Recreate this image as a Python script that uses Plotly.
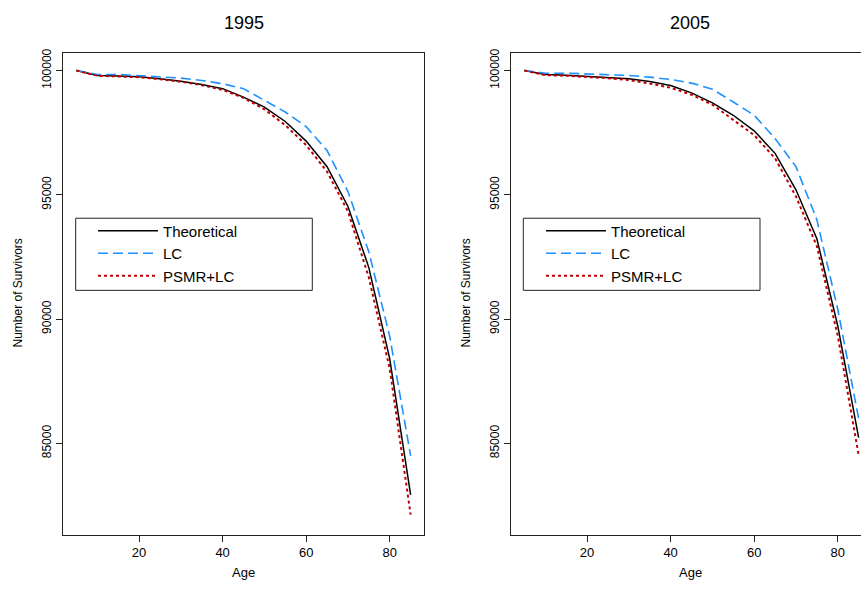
import plotly.graph_objects as go

# ---------------- data ----------------
ages = [5, 10, 15, 20, 25, 30, 35, 40, 45, 50, 55, 60, 65, 70, 75, 80, 85]

theo_1995 = [100000, 99800, 99775, 99745, 99665, 99570, 99440, 99270, 98930,
             98530, 97950, 97160, 96130, 94530, 92070, 88400, 82930]
lc_1995 = [100000, 99840, 99840, 99800, 99760, 99695, 99600, 99470, 99270,
           98800, 98330, 97740, 96780, 95130, 92700, 89300, 84500]
psmr_1995 = [100000, 99790, 99760, 99730, 99650, 99550, 99410, 99220, 98900,
             98440, 97800, 97000, 95930, 94330, 91670, 88000, 82130]

theo_2005 = [100000, 99840, 99813, 99773, 99733, 99667, 99560, 99400, 99100,
             98700, 98200, 97573, 96667, 95200, 93233, 89733, 85227]
lc_2005 = [100000, 99893, 99893, 99867, 99830, 99800, 99733, 99640, 99493,
           99250, 98733, 98200, 97267, 96133, 94000, 90400, 86000]
psmr_2005 = [100000, 99813, 99787, 99747, 99693, 99613, 99480, 99307, 99027,
             98627, 98027, 97400, 96467, 94933, 92933, 89333, 84533]

x_ticks = [20, 40, 60, 80]
y_ticks = [85000, 90000, 95000, 100000]
y_tick_labels = ["85000", "90000", "95000", "100000"]
series_names = ["Theoretical", "LC", "PSMR+LC"]
panel_titles = ["1995", "2005"]

# ---------------- layout helpers ----------------
W, H = 861, 589
def fx(px):
    return px / W
def fy(py):
    return 1 - py / H

FONT = "Liberation Sans, Arial, Helvetica, sans-serif"
styles = [
    dict(color="black", width=1.5, dash="solid"),
    dict(color="#1E90FF", width=1.6, dash="10px,5px"),
    dict(color="#C00000", width=2, dash="3px,3px"),
]

fig = go.Figure()
panels = [
    (theo_1995, lc_1995, psmr_1995, "x", "y", "legend"),
    (theo_2005, lc_2005, psmr_2005, "x2", "y2", "legend2"),
]
for theo, lc, psmr, xa, ya, lg in panels:
    for name, vals, st in zip(series_names, [theo, lc, psmr], styles):
        fig.add_trace(go.Scatter(
            x=ages, y=vals, mode="lines", name=name,
            line=st, xaxis=xa, yaxis=ya, legend=lg, showlegend=True,
        ))

xr = [1.8, 88.2]
px_per_unit = (424 - 63) / (xr[1] - xr[0])
xr2 = [1.8, 1.8 + (W - 511) / px_per_unit]
yr = [81318, 100718]

axis_common = dict(
    showgrid=False, zeroline=False, showline=True, linecolor="#222",
    linewidth=1, ticks="outside", ticklen=6, tickcolor="#222",
)
xtickfont = dict(family=FONT, size=13, color="black")
ytickfont = dict(family=FONT, size=12, color="black")

legend_common = dict(
    font=dict(family=FONT, size=15, color="black"),
    bgcolor="rgba(0,0,0,0)", borderwidth=0,
    xanchor="left", yanchor="top", tracegroupgap=0, itemwidth=60,
)

fig.update_layout(
    width=W, height=H,
    margin=dict(l=0, r=0, t=0, b=0),
    paper_bgcolor="white", plot_bgcolor="white",
    xaxis=dict(domain=[fx(63), fx(424)], range=xr, tickvals=x_ticks,
               tickfont=xtickfont, mirror=True, anchor="y", **axis_common),
    yaxis=dict(domain=[fy(534.5), fy(49)], range=yr, tickvals=y_ticks,
               ticktext=y_tick_labels, tickangle=-90, tickfont=ytickfont,
               mirror=True, anchor="x", **axis_common),
    xaxis2=dict(domain=[fx(511), 1.0], range=xr2, tickvals=x_ticks,
                tickfont=xtickfont, mirror=True, anchor="y2", **axis_common),
    yaxis2=dict(domain=[fy(534.5), fy(49)], range=yr, tickvals=y_ticks,
                ticktext=y_tick_labels, tickangle=-90, tickfont=ytickfont,
                mirror=False, anchor="x2", **axis_common),
    legend=dict(x=fx(93), y=fy(212), **legend_common),
    legend2=dict(x=fx(541), y=fy(212), **legend_common),
    showlegend=True,
)

# legend boxes
for x0, x1 in [(75.7, 312.3), (523.3, 760)]:
    fig.add_shape(type="rect", xref="paper", yref="paper",
                  x0=fx(x0), x1=fx(x1), y0=fy(288.3), y1=fy(215.7),
                  line=dict(color="#222", width=1), fillcolor="rgba(0,0,0,0)")

# titles and axis labels
for cx, title in zip([243.5, 690], panel_titles):
    fig.add_annotation(text=title, x=fx(cx), y=fy(19), xref="paper", yref="paper",
                       showarrow=False, xanchor="center", yanchor="middle",
                       font=dict(family=FONT, size=18, color="black"))
    fig.add_annotation(text="Age", x=fx(cx), y=fy(572), xref="paper", yref="paper",
                       showarrow=False, xanchor="center", yanchor="middle",
                       font=dict(family=FONT, size=13, color="black"))
for lx in [18, 466]:
    fig.add_annotation(text="Number of Survivors", x=fx(lx), y=fy(291.5),
                       xref="paper", yref="paper", textangle=-90,
                       showarrow=False, xanchor="center", yanchor="middle",
                       font=dict(family=FONT, size=12, color="black"))

fig.write_html(
    "out.html",
    config={"displayModeBar": False},
    post_script="document.body.style.margin='0';document.body.style.overflow='hidden';",
)
